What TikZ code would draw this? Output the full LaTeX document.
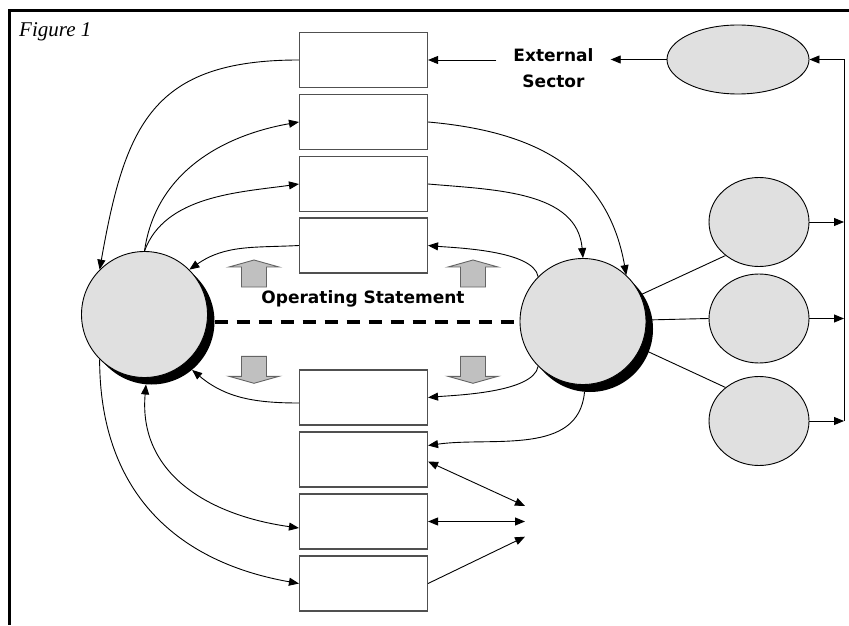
\documentclass[tikz,border=0pt]{standalone}
\usepackage{fontspec}
\setmainfont{Liberation Serif}
\newfontfamily\vfont{DejaVu Sans}
\usetikzlibrary{arrows.meta,shapes.geometric}
\pgfdeclarelayer{background}
\pgfsetlayers{background,main}
\definecolor{cfill}{RGB}{224,224,224}
\definecolor{afill}{RGB}{192,192,192}
\definecolor{aline}{RGB}{100,100,100}
\definecolor{bline}{RGB}{80,80,80}
\tikzset{
  tip/.tip={Triangle[length=10pt,width=8pt]},
  arr/.style={-tip, line width=0.9pt},
  dbl/.style={tip-tip, line width=0.9pt},
  con/.style={line width=0.9pt},
  box/.style={rectangle, draw=bline, line width=1.1pt, fill=white, minimum width=128pt, minimum height=55pt, inner sep=0pt},
  bigc/.style={circle, draw=black, line width=0.9pt, fill=cfill, minimum size=126pt, inner sep=0pt},
  shad/.style={circle, fill=black, minimum size=126pt, inner sep=0pt},
  ell/.style={ellipse, draw=black, line width=0.9pt, fill=cfill, inner sep=0pt},
  grayarr/.style={fill=afill, draw=aline, line width=0.9pt},
  lbl/.style={font=\vfont\bfseries\fontsize{17}{26}\selectfont, inner sep=0pt},
  uparr/.pic={\draw[grayarr] (0,0) -- (25,-7) -- (12.5,-7) -- (12.5,-27) -- (-12.5,-27) -- (-12.5,-7) -- (-25,-7) -- cycle;},
  downarr/.pic={\draw[grayarr] (0,0) -- (25,7) -- (12.5,7) -- (12.5,27) -- (-12.5,27) -- (-12.5,7) -- (-25,7) -- cycle;}
}
\begin{document}
\begin{tikzpicture}[x=1pt,y=1pt]
\useasboundingbox (0,0) rectangle (849,625);
% frame
\draw[line width=3.5pt] (849,614.5) -- (9.5,614.5) -- (9.5,0);
\node[anchor=base west, font=\fontsize{21}{24}\selectfont\itshape, inner sep=0pt] (fig) at (19,588.5) {Figure 1};

% boxes
\node[box] (b1) at (363.5,565) {};
\node[box] (b2) at (363.5,503) {};
\node[box] (b3) at (363.5,441) {};
\node[box] (b4) at (363.5,379.5) {};
\node[box] (b5) at (363.5,227.5) {};
\node[box] (b6) at (363.5,165.5) {};
\node[box] (b7) at (363.5,103.5) {};
\node[box] (b8) at (363.5,41.5) {};

% ellipses
\node[ell, minimum width=142pt, minimum height=69pt] (te) at (738,565.5) {};
\node[ell, minimum width=100pt, minimum height=89pt] (e1) at (759,403) {};
\node[ell, minimum width=100pt, minimum height=89pt] (e2) at (759,306.5) {};
\node[ell, minimum width=100pt, minimum height=89pt] (e3) at (759,204) {};

% big circles
\node[shad] (lcs) at (151.5,303.5) {};
\node[bigc] (lc) at (144.5,310.5) {};
\node[shad] (rcs) at (590,296) {};
\node[bigc] (rc) at (583,303.5) {};

\begin{pgfonlayer}{background}
\draw[con] (rc.center) -- (e1.-135);
\draw[con] (rc.center) -- (e2.west);
\draw[con] (rc.center) -- (e3.135);
\end{pgfonlayer}

% dashed line
\draw[line width=4pt, dash pattern=on 13pt off 9pt] (lcs.east) -- (rc.west);

% labels
\node[lbl] (op) at (363,326.5) {Operating Statement};
\node[lbl, align=center, minimum width=114pt] (ext) at (553.5,557) {External\\Sector};

% gray arrows
\pic at (254,365) {uparr};
\pic at (473,365) {uparr};
\pic at (254,241.7) {downarr};
\pic at (473,241.7) {downarr};

% external sector
\draw[arr] (te.west) -- (te.west -| ext.east);
\draw[arr] (b1.east -| ext.west) -- (b1.east);

% bus on right
\coordinate (bus) at (844,0);
\draw[arr] (e1.east) -- (e1.east -| bus);
\draw[arr] (e2.east) -- (e2.east -| bus);
\draw[arr] (e3.east) -- (e3.east -| bus);
\draw[arr] (e3.east -| bus) -- (te.east -| bus) -- (te.east);

% left side curves
\draw[arr] (b1.west) to[out=180, in=80, looseness=1.3] (lc.135);
\draw[arr] (lc.north) to[out=82, in=190, looseness=1.0] (b2.west);
\draw[arr] (lc.north) to[out=70, in=188, looseness=0.9] (b3.west);
\draw[arr] (b4.west) to[out=183, in=35] (lc.45);
\draw[arr] ([yshift=-5.5pt]b5.west) to[out=180, in=-40] (lcs.-50);
\draw[dbl] (lcs.-95) to[out=-95, in=172, looseness=1.1] ([yshift=-6.5pt]b7.west);
\draw[arr] (lc.-135) to[out=-90, in=170, looseness=1.1] (b8.west);

% right side curves
\draw[arr] (b2.east) to[out=-5, in=100, looseness=1.1] (rc.47);
\draw[arr] (b3.east) to[out=-5, in=95] (rc.north);
\draw[arr] (rc.135) to[out=100, in=-5, looseness=0.6] (b4.east);
\draw[arr] (rc.-135) to[out=-100, in=5, looseness=0.6] (b5.east);
\draw[arr] (rcs.-95) to[out=-95, in=8] ([yshift=14pt]b6.east);

% bottom right
\coordinate (p1) at (525,119);
\coordinate (p2) at (525,103.5);
\coordinate (p3) at (525,88.3);
\draw[dbl] ([yshift=-2pt]b6.east) -- (p1);
\draw[dbl] (b7.east) -- (p2);
\draw[arr] (b8.east) -- (p3);
\end{tikzpicture}
\end{document}
